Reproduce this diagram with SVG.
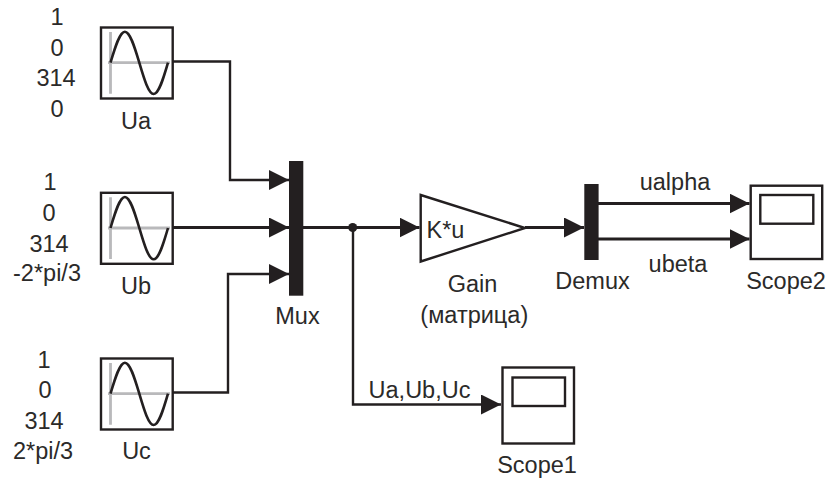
<svg xmlns="http://www.w3.org/2000/svg" width="828" height="479" viewBox="0 0 828 479">
<style>
text{font-family:"Liberation Sans",Arial,sans-serif;font-size:23.5px;fill:#2b2a29;text-anchor:middle}
.w{fill:none;stroke:#231f20;stroke-width:2.4}
.t{fill:none;stroke:#231f20;stroke-width:3.2}
.b{fill:#fff;stroke:#231f20;stroke-width:2.4}
.bar{fill:#231f20}
.ax{fill:none;stroke:#b9b9bb;stroke-width:2.8}
.sn{fill:none;stroke:#231f20;stroke-width:2.6}
</style>
<defs>
<marker id="ah" viewBox="0 0 20 20" refX="20" refY="10" markerWidth="20" markerHeight="20" markerUnits="userSpaceOnUse" orient="auto"><path d="M0 0L20 10L0 20Z" fill="#231f20"/></marker>
<g id="sine">
<rect class="b" x="101" y="27.500" width="71.700" height="71"/>
<path class="ax" d="M110.500 32V93.700M108 62.700H170"/>
<path class="sn" d="M110.500 62.700C115.200 46.800 119.700 31.700 124.900 31.700C130.100 31.700 134.600 46.800 139.300 62.700C144 78.600 148.500 94 153.700 94C158.900 94 163.400 78.600 168 62.700"/>
</g>
</defs>
<g id="connectors">
<path class="w" marker-end="url(#ah)" d="M172.500 61.500H230V180H289"/>
<path class="t" marker-end="url(#ah)" d="M172.500 227.500H289"/>
<path class="w" marker-end="url(#ah)" d="M172.500 392.500H228V274H289"/>
<path class="t" marker-end="url(#ah)" d="M303 227.500H419.500"/>
<path class="w" marker-end="url(#ah)" d="M353 227.500V404.500H501"/>
<circle cx="352.700" cy="227.500" r="4.500" fill="#231f20"/>
<path class="t" marker-end="url(#ah)" d="M525 227.500H584"/>
<path class="t" marker-end="url(#ah)" d="M598 203.500H749.500"/>
<path class="t" marker-end="url(#ah)" d="M598 239H749.500"/>
</g>
<g id="Ua"><use href="#sine"/><text x="57" y="25">1</text><text x="57" y="56">0</text><text x="56" y="86">314</text><text x="57" y="117">0</text><text x="136" y="129">Ua</text></g>
<g id="Ub"><use href="#sine" y="165.300"/><text x="50" y="190">1</text><text x="49" y="220.500">0</text><text x="49" y="251.500">314</text><text x="47" y="280.500">-2*pi/3</text><text x="136" y="294">Ub</text></g>
<g id="Uc"><use href="#sine" y="331"/><text x="44" y="368">1</text><text x="45" y="398">0</text><text x="44" y="429">314</text><text x="43" y="459">2*pi/3</text><text x="136.500" y="459">Uc</text></g>
<g id="Mux"><rect class="bar" x="289" y="161" width="14.300" height="134.700"/><text x="297.500" y="324">Mux</text></g>
<g id="Gain"><path class="b" d="M420.700 195L525 228L420.700 261.500Z"/><text x="445.500" y="237.500">K*u</text><text x="472.500" y="291.500">Gain</text><text x="474.300" y="323">(матрица)</text></g>
<g id="Demux"><rect class="bar" x="584.300" y="184" width="14.300" height="76"/><text x="592.500" y="289">Demux</text></g>
<g id="Scope2"><rect class="b" x="750.700" y="185.700" width="71.500" height="73.300"/><rect class="b" x="760.300" y="195" width="53" height="28.700"/><text x="786" y="288.500">Scope2</text></g>
<g id="Scope1"><rect class="b" x="502.500" y="367.500" width="71.500" height="76"/><rect class="b" x="512.500" y="377.500" width="52.500" height="28.500"/><text x="537" y="473">Scope1</text></g>
<text x="675" y="190">ualpha</text>
<text x="678" y="272.300">ubeta</text>
<text x="419.500" y="398">Ua,Ub,Uc</text>
</svg>
